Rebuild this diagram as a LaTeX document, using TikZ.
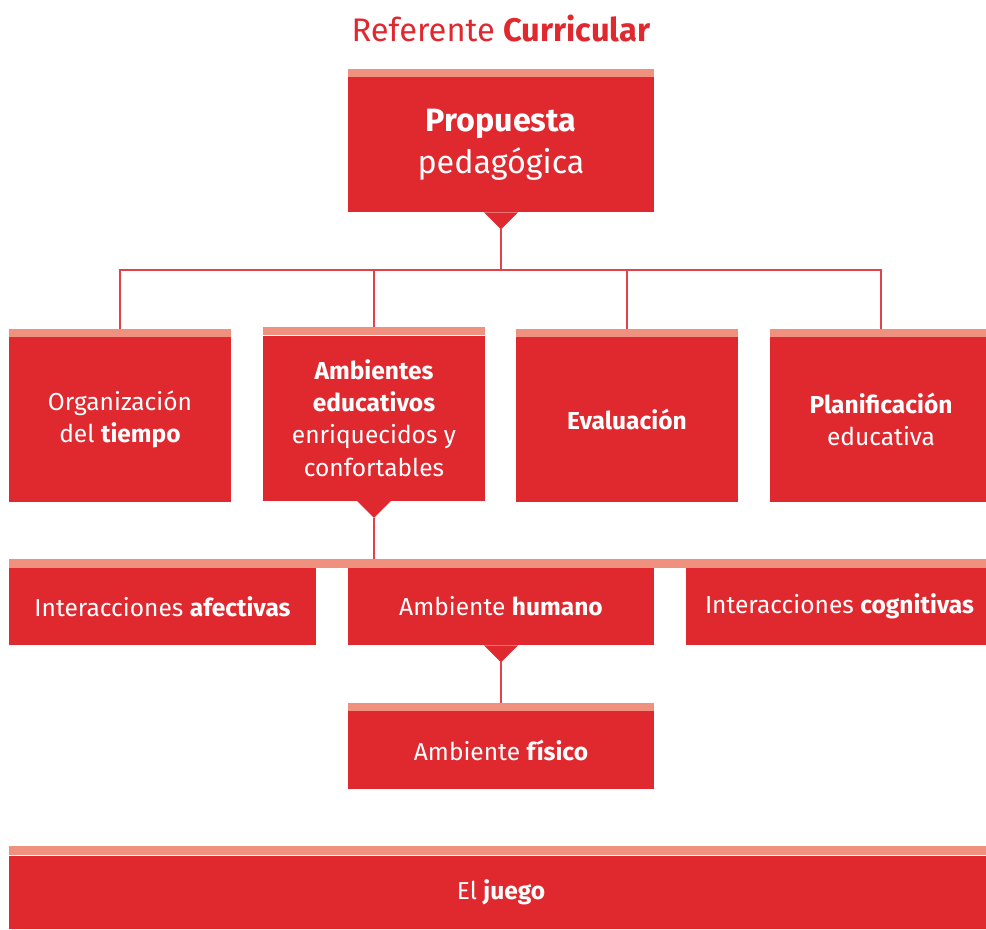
\documentclass[tikz,border=0pt]{standalone}
\usepackage{fontspec}
\setmainfont{Fira Sans}
\usetikzlibrary{calc,positioning}
\definecolor{rojo}{HTML}{E0282F}
\definecolor{salmon}{HTML}{F0907E}
\definecolor{linea}{HTML}{E2434B}
\def\px{0.75pt}
\tikzset{
  caja/.style={fill=rojo, text=white, inner sep=0pt, align=center, font=\fontsize{18.4}{24.2}\selectfont},
  fila/.style={caja, minimum width=222*\px, minimum height=165*\px},
  fila3/.style={caja, minimum width=307*\px, minimum height=77*\px},
  banda/.style={fill=salmon, inner sep=0pt},
  con/.style={draw=linea, line width=1.1pt},
}

\begin{document}
\begin{tikzpicture}[x=0.75pt,y=-0.75pt]
\useasboundingbox (0,0) rectangle (986,929);
\clip (0,0) rectangle (986,929);

\node[text=rojo, font=\fontsize{24.5}{28}\selectfont] (titulo) at (501,29) {Referente \textbf{Curricular}};

\node[caja, minimum width=306*\px, minimum height=135*\px, font=\fontsize{24.2}{31.5}\selectfont] (prop) at (501,144.5) {\textbf{Propuesta}\\pedagógica};

% second row
\node[fila] (org) at (120,419.5) {Organización\\del \textbf{tiempo}};
\node[fila] (amb) at (374,418) {\textbf{Ambientes}\\\textbf{educativos}\\enriquecidos y\\confortables};
\node[fila] (eval) at (627,419.5) {\textbf{Evaluación}};
\node[fila] (plan) at (881,419.5) {\textbf{Planificación}\\educativa};

% third row
\node[banda, minimum width=984*\px, minimum height=9*\px] (tira) at (501,563.5) {};
\node[fila3] (afe) at (162.5,606.5) {Interacciones \textbf{afectivas}};
\node[fila3, minimum width=306*\px] (hum) at (501,606.5) {Ambiente \textbf{humano}};
\node[fila3] (cog) at (839.5,606.5) {Interacciones \textbf{cognitivas}};

\node[caja, minimum width=306*\px, minimum height=78*\px] (fis) at (501,750) {Ambiente \textbf{físico}};

\node[caja, minimum width=984*\px, minimum height=73*\px] (juego) at (501,892.5) {El \textbf{juego}};
\node[banda, minimum width=984*\px, minimum height=9*\px, above=0pt of juego] (tjuego) {};

% salmon bars on top of the boxes
\foreach \n in {prop,org,amb,eval,plan,fis}{
  \fill[salmon] (\n.north west) rectangle ($(\n.north east)+(0,-8)$);
}

% pointers under the boxes
\foreach \n in {prop,amb,hum}{
  \fill[rojo] ($(\n.south)+(-17,0)$) -- ($(\n.south)+(0,17)$) -- ($(\n.south)+(17,0)$) -- cycle;
  \coordinate (\n-p) at ($(\n.south)+(0,17)$);
}

\coordinate (rama) at (501,270);
\draw[con] (prop-p) -- (rama);
\foreach \n in {org,amb,eval,plan}{
  \draw[con] (rama) -| ($(\n.north)+(0,-8)$);
}
\draw[con] (amb-p) -- (amb-p |- tira.north);
\draw[con] (hum-p) -- ($(fis.north)+(0,-8)$);
\end{tikzpicture}
\end{document}
